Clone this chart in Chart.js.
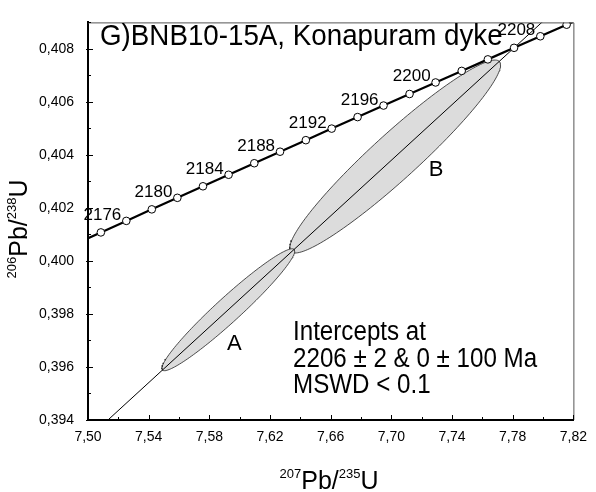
<!DOCTYPE html>
<html>
<head>
<meta charset="utf-8">
<script src="https://cdn.jsdelivr.net/npm/chart.js@4.4.1/dist/chart.umd.min.js"></script>
<style>
    html, body { margin: 0; padding: 0; background: #fff; }
    #wrap { width: 596px; height: 492px; }
</style>
</head>
<body>
<div id="wrap"><canvas id="chart"></canvas></div>
<script>
"use strict"

const FONT = "'Liberation Sans', Arial, sans-serif"

// concordia, every 2 Ma (207Pb/235U, 206Pb/238U)
const concordiaAge = [2172, 2174, 2176, 2178, 2180, 2182, 2184, 2186, 2188, 2190, 2192,
    2194, 2196, 2198, 2200, 2202, 2204, 2206, 2208, 2210, 2212]
const concordiaX = [7.491744, 7.508486, 7.525261, 7.542070, 7.558912, 7.575787, 7.592695,
    7.609636, 7.626611, 7.643619, 7.660661, 7.677736, 7.694845, 7.711988, 7.729164,
    7.746374, 7.763618, 7.780896, 7.798208, 7.815555, 7.832936]
const concordiaY = [0.400642, 0.401077, 0.401512, 0.401947, 0.402382, 0.402817, 0.403252,
    0.403687, 0.404122, 0.404557, 0.404993, 0.405428, 0.405863, 0.406299, 0.406734,
    0.407170, 0.407605, 0.408041, 0.408477, 0.408913, 0.409349]
const circleAges = [2174, 2176, 2178, 2180, 2182, 2184, 2186, 2188, 2190, 2192, 2194,
    2196, 2198, 2200, 2202, 2204, 2206, 2208, 2210]
const labelledAges = [2176, 2180, 2184, 2188, 2192, 2196, 2200, 2208]

// analyses: centre, half ranges and error correlation
const spotName = ["A", "B"]
const spotX = [7.5925, 7.7025]
const spotXErr = [0.0438, 0.0695]
const spotY = [0.39816, 0.40394]
const spotYErr = [0.00230, 0.00364]
const spotRho = [0.962, 0.948]

// discordia: lower and upper intercept
const interceptAge = [0, 2206]
const discordiaX = [0, 7.780896]
const discordiaY = [0, 0.408041]

const xTickValues = [7.50, 7.54, 7.58, 7.62, 7.66, 7.70, 7.74, 7.78, 7.82]
const xTickLabels = ["7,50", "7,54", "7,58", "7,62", "7,66", "7,70", "7,74", "7,78", "7,82"]
const yTickValues = [0.394, 0.396, 0.398, 0.400, 0.402, 0.404, 0.406, 0.408]
const yTickLabels = ["0,394", "0,396", "0,398", "0,400", "0,402", "0,404", "0,406", "0,408"]

const titleText = "G)BNB10-15A, Konapuram dyke"
const resultLines = ["Intercepts at", "2206 \u00b1 2 & 0 \u00b1 100 Ma", "MSWD < 0.1"]

function findLabel(values, labels, v) {
    let i = values.findIndex(t => Math.abs(t - v) < 1e-7)
    return i >= 0 ? labels[i] : ""
}

function ellipsePoints(i) {
    let pts = []
    let s = Math.sqrt(1 - spotRho[i] * spotRho[i])
    for (let k = 0; k <= 160; k++) {
        let t = k / 160 * 2 * Math.PI
        pts.push({
            x: spotX[i] + spotXErr[i] * Math.cos(t),
            y: spotY[i] + spotYErr[i] * (spotRho[i] * Math.cos(t) + s * Math.sin(t))
        })
    }
    return pts
}

let datasets = []

for (let i = 0; i < spotName.length; i++) {
    datasets.push({
        label: spotName[i],
        data: ellipsePoints(i),
        showLine: true,
        fill: "shape",
        backgroundColor: "#dcdcdc",
        borderColor: "#222",
        borderWidth: 0.8,
        pointRadius: 0,
        tension: 0,
        order: 4
    })
}

// discordia, carried on past the upper intercept to the edge
let slope = (discordiaY[1] - discordiaY[0]) / (discordiaX[1] - discordiaX[0])
let discordiaData = discordiaX.map((x, i) => ({ x: x, y: discordiaY[i] }))
discordiaData.push({ x: 7.9, y: discordiaY[0] + (7.9 - discordiaX[0]) * slope })
datasets.push({
    label: "discordia",
    data: discordiaData,
    showLine: true,
    borderColor: "#000",
    borderWidth: 1,
    pointRadius: 0,
    order: 3
})

datasets.push({
    label: "concordia",
    data: concordiaAge.map((a, i) => ({ x: concordiaX[i], y: concordiaY[i] })),
    showLine: true,
    borderColor: "#000",
    borderWidth: 2.2,
    pointRadius: 0,
    order: 2
})

datasets.push({
    label: "ages",
    data: circleAges.map(a => {
        let i = concordiaAge.indexOf(a)
        return { x: concordiaX[i], y: concordiaY[i] }
    }),
    showLine: false,
    pointRadius: 3.8,
    pointBackgroundColor: "#fff",
    pointBorderColor: "#000",
    pointBorderWidth: 1,
    order: 1
})

function squeezedText(ctx, text, x, y, size, squeeze) {
    ctx.save()
    ctx.font = size + "px " + FONT
    ctx.translate(x, y)
    ctx.scale(squeeze, 1)
    ctx.fillText(text, 0, 0)
    ctx.restore()
}

function drawIsotopes(ctx, parts, cx, baseline) {
    let w = 0
    for (let p of parts) {
        ctx.font = (p.sup ? 13 : 25) + "px " + FONT
        w += ctx.measureText(p.text).width
    }
    let x = cx - w / 2
    ctx.textAlign = "left"
    ctx.textBaseline = "alphabetic"
    for (let p of parts) {
        ctx.font = (p.sup ? 13 : 25) + "px " + FONT
        ctx.fillText(p.text, x, p.sup ? baseline - 11 : baseline)
        x += ctx.measureText(p.text).width
    }
}

const decorations = {
    id: "decorations",
    afterDatasetsDraw(chart) {
        const ctx = chart.ctx
        const xs = chart.scales.x
        const ys = chart.scales.y
        const area = chart.chartArea
        ctx.save()

        // thin frame on top and right
        ctx.strokeStyle = "#555"
        ctx.lineWidth = 1
        ctx.beginPath()
        ctx.moveTo(area.left, area.top + 0.5)
        ctx.lineTo(area.right + 0.5, area.top + 0.5)
        ctx.lineTo(area.right + 0.5, area.bottom)
        ctx.stroke()

        // tick marks pointing inward
        ctx.strokeStyle = "#000"
        ctx.lineWidth = 1
        ctx.beginPath()
        xs.ticks.forEach(t => {
            let px = Math.round(xs.getPixelForValue(t.value)) + 0.5
            let len = t.label ? 5 : 3
            ctx.moveTo(px, area.bottom)
            ctx.lineTo(px, area.bottom - len)
        })
        ys.ticks.forEach(t => {
            let py = Math.round(ys.getPixelForValue(t.value)) + 0.5
            let len = t.label ? 5 : 3
            ctx.moveTo(area.left - (t.label ? 2 : 0), py)
            ctx.lineTo(area.left + len, py)
        })
        ctx.stroke()

        ctx.fillStyle = "#000"

        // age labels on the concordia
        ctx.font = "17px " + FONT
        ctx.textAlign = "right"
        ctx.textBaseline = "alphabetic"
        labelledAges.forEach(a => {
            let i = concordiaAge.indexOf(a)
            let px = xs.getPixelForValue(concordiaX[i])
            let py = ys.getPixelForValue(concordiaY[i])
            ctx.fillText(String(a), px - 5, py - 1)
        })

        // ellipse names
        ctx.font = "22px " + FONT
        ctx.textAlign = "center"
        ctx.textBaseline = "middle"
        let nameOffset = [[6, 34], [41, 13]]
        spotName.forEach((n, i) => {
            let px = xs.getPixelForValue(spotX[i])
            let py = ys.getPixelForValue(spotY[i])
            ctx.fillText(n, px + nameOffset[i][0], py + nameOffset[i][1])
        })

        // title and result text
        ctx.textAlign = "left"
        ctx.textBaseline = "alphabetic"
        squeezedText(ctx, titleText, 100, 45, 30, 0.925)
        resultLines.forEach((line, i) => {
            squeezedText(ctx, line, 293, 340 + i * 26.5, 27, 0.895)
        })

        // axis titles
        drawIsotopes(ctx, [{ text: "207", sup: true }, { text: "Pb/" }, { text: "235", sup: true }, { text: "U" }], 329, 489)
        ctx.translate(27, 229)
        ctx.rotate(-Math.PI / 2)
        drawIsotopes(ctx, [{ text: "206", sup: true }, { text: "Pb/" }, { text: "238", sup: true }, { text: "U" }], 0, 0)

        ctx.restore()
    }
}

Chart.defaults.font.family = FONT

const ctx = document.getElementById("chart").getContext("2d")
const chart = new Chart(ctx, {
    type: "scatter",
    data: { datasets: datasets },
    options: {
        responsive: true,
        maintainAspectRatio: false,
        animation: false,
        events: [],
        layout: { padding: { top: 7, right: 15, left: 0, bottom: 0 } },
        plugins: {
            legend: { display: false },
            tooltip: { enabled: false }
        },
        scales: {
            x: {
                type: "linear",
                min: 7.50,
                max: 7.82,
                afterFit: s => { s.height = 72 },
                ticks: {
                    stepSize: 0.02,
                    autoSkip: false,
                    maxRotation: 0,
                    color: "#000",
                    font: { size: 14 },
                    padding: 9,
                    callback: v => findLabel(xTickValues, xTickLabels, v)
                },
                grid: { drawOnChartArea: false, drawTicks: false },
                border: { color: "#000", width: 2 }
            },
            y: {
                type: "linear",
                min: 0.394,
                max: 0.409,
                afterFit: s => { s.width = 88 },
                ticks: {
                    stepSize: 0.001,
                    autoSkip: false,
                    color: "#000",
                    font: { size: 14 },
                    padding: 14,
                    callback: v => findLabel(yTickValues, yTickLabels, v)
                },
                grid: { drawOnChartArea: false, drawTicks: false },
                border: { color: "#000", width: 2 }
            }
        }
    },
    plugins: [decorations]
})
</script>
</body>
</html>
